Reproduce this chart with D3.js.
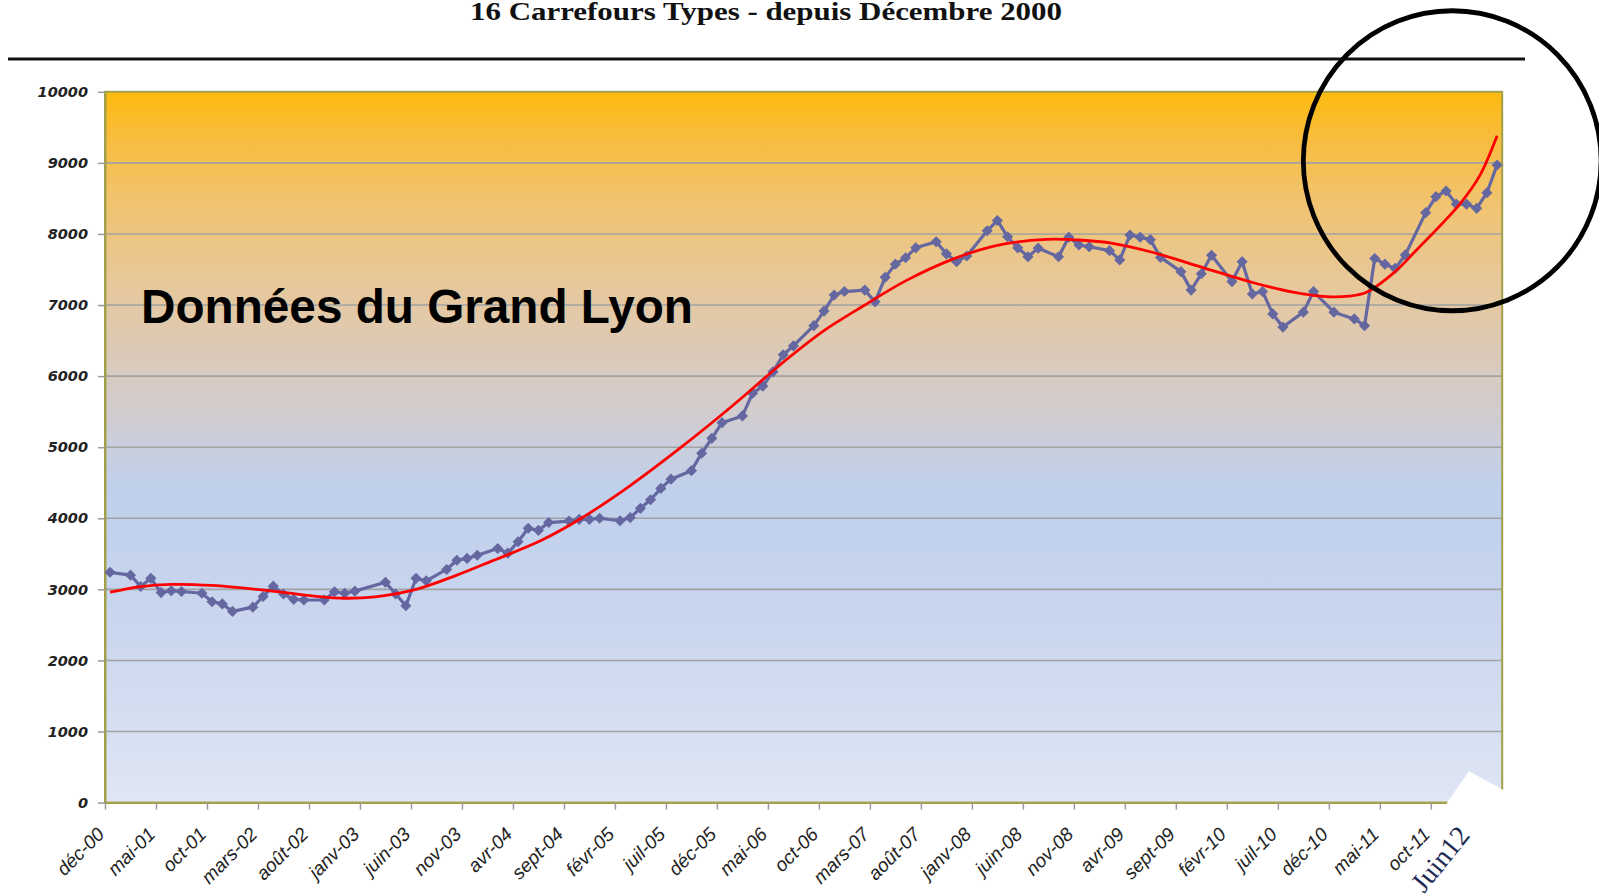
<!DOCTYPE html>
<html>
<head>
<meta charset="utf-8">
<script src="https://d3js.org/d3.v7.min.js"></script>
<style>
  body { margin: 0; background: #fff; }
  svg { display: block; }
</style>
</head>
<body>
<div id="container"></div>
<script>
// tick labels on the x axis, one every 5 months starting dec 2000
var monthLabels = ["déc-00","mai-01","oct-01","mars-02","août-02","janv-03","juin-03","nov-03",
  "avr-04","sept-04","févr-05","juil-05","déc-05","mai-06","oct-06","mars-07","août-07",
  "janv-08","juin-08","nov-08","avr-09","sept-09","févr-10","juil-10","déc-10","mai-11","oct-11"];

var yTicks = [0, 1000, 2000, 3000, 4000, 5000, 6000, 7000, 8000, 9000, 10000];

// monthly counts (null = month with no point, the line just joins across)
var values = [
  3240, null, 3200, 3040, 3155, 2955, 2980, 2970, null, 2945,
  2825, 2795, 2690, null, 2750, 2900, 3045, 2935, 2860, 2850,
  null, 2850, 2965, 2945, 2975, null, null, 3100, 2935, 2770,
  3155, 3120, null, 3280, 3410, 3435, 3480, null, 3575, 3510,
  3670, 3860, 3830, 3940, null, 3960, 3985, 3985, 4000, null,
  3965, 4010, 4140, 4260, 4420, 4550, null, 4670, 4915, 5125,
  5345, null, 5440, 5760, 5860, 6060, 6300, 6425, null, 6710,
  6915, 7140, 7190, null, 7210, 7045, 7390, 7575, 7665, 7805,
  null, 7890, 7720, 7610, 7690, null, 8045, 8190, 7960, 7805,
  7680, 7800, null, 7680, 7955, 7845, 7820, null, 7765, 7635,
  7985, 7955, 7920, 7670, null, 7470, 7210, 7440, 7700, null,
  7330, 7610, 7155, 7190, 6875, 6690, null, 6900, 7190, null,
  6900, null, 6805, 6710, 7655, 7575, 7515, 7705, null, 8300,
  8525, 8605, 8420, 8420, 8360, 8580, 8970
];

// red trend curve (month index / value)
var trendMonths = [0, 3, 6, 10, 15.7, 20, 23, 26, 30, 34, 37.3, 42.3, 46.2, 51, 56, 61, 66.3,
  70, 74, 78, 82.7, 87, 91.8, 95, 98.3, 102, 107.3, 112.2, 116, 119.3, 121.5, 123.2, 126,
  128.1, 132.4, 134.3, 136];
var trendValues = [2960, 3040, 3070, 3055, 2980, 2905, 2875, 2895, 3000, 3200, 3390, 3690, 4000,
  4460, 5000, 5580, 6230, 6640, 7000, 7340, 7650, 7840, 7925, 7915, 7869, 7750, 7520, 7310,
  7180, 7117, 7125, 7180, 7470, 7774, 8431, 8820, 9380];

var W = 1599, H = 896;
var margin = { top: 91.8, left: 105, right: 96.8, bottom: 93.4 };
var width = W - margin.left - margin.right;
var height = H - margin.top - margin.bottom;

var svg = d3.select("#container").append("svg")
  .attr("width", W)
  .attr("height", H);

var defs = svg.append("defs");
var grad = defs.append("linearGradient")
  .attr("id", "bg")
  .attr("x1", 0).attr("y1", 0).attr("x2", 0).attr("y2", 1);
[[0, "#fcba0e"], [0.07, "#f8bd40"], [0.15, "#f1c36c"], [0.25, "#e9c794"], [0.33, "#e0c9ad"],
 [0.42, "#d5cbc6"], [0.5, "#cacedc"], [0.56, "#bfd0ec"], [0.75, "#cad6ee"], [1, "#dfe6f4"]]
  .forEach(function (s) {
    grad.append("stop").attr("offset", s[0]).attr("stop-color", s[1]);
  });

// title + rule
svg.append("text")
  .attr("x", 470)
  .attr("y", 20)
  .attr("textLength", 592)
  .attr("lengthAdjust", "spacingAndGlyphs")
  .style("font-family", "'Liberation Serif', 'Times New Roman', serif")
  .style("font-weight", "bold")
  .style("font-size", "26px")
  .style("fill", "#111")
  .text("16 Carrefours Types - depuis Décembre 2000");

svg.append("line")
  .attr("x1", 8).attr("x2", 1525)
  .attr("y1", 59).attr("y2", 59)
  .attr("stroke", "#111")
  .attr("stroke-width", 3);

var g = svg.append("g")
  .attr("transform", "translate(" + margin.left + "," + margin.top + ")");

var x = d3.scaleLinear().domain([0, values.length]).range([0, width]);
var y = d3.scaleLinear().domain([0, 10000]).range([height, 0]);

g.append("rect")
  .attr("width", width)
  .attr("height", height)
  .attr("fill", "url(#bg)");

// gridlines
g.append("g")
  .selectAll("line")
  .data(yTicks.filter(function (d) { return d > 0 && d < 10000; }))
  .enter()
  .append("line")
    .attr("x1", 0).attr("x2", width)
    .attr("y1", function (d) { return y(d); })
    .attr("y2", function (d) { return y(d); })
    .attr("stroke", "#a2a2a2")
    .attr("stroke-width", 1.6);

g.append("rect")
  .attr("width", width)
  .attr("height", height)
  .attr("fill", "none")
  .attr("stroke", "#a3a04a")
  .attr("stroke-width", 2);

// y axis
var yAxis = g.append("g")
  .call(d3.axisLeft(y).tickValues(yTicks).tickFormat(d3.format("d"))
    .tickSize(7).tickSizeOuter(0).tickPadding(10));
yAxis.select(".domain").attr("stroke", "#a3a04a").attr("stroke-width", 2);
yAxis.selectAll(".tick line").attr("stroke", "#9a9a9a").attr("stroke-width", 1.5);
yAxis.selectAll("text")
  .style("font-family", "'DejaVu Sans', Verdana, sans-serif")
  .style("font-style", "italic")
  .style("font-weight", "bold")
  .style("font-size", "14.5px")
  .style("fill", "#222");

// x axis
var xAxis = g.append("g")
  .attr("transform", "translate(0," + height + ")")
  .call(d3.axisBottom(x)
    .tickValues(d3.range(0, monthLabels.length * 5, 5))
    .tickFormat(function (d, i) { return monthLabels[i]; })
    .tickSize(7).tickSizeOuter(0));
xAxis.select(".domain").attr("stroke", "#a3a04a").attr("stroke-width", 2);
xAxis.selectAll(".tick line").attr("stroke", "#9a9a9a").attr("stroke-width", 1.5);
xAxis.selectAll("text")
  .attr("x", 0).attr("y", 0).attr("dy", 0)
  .attr("text-anchor", "end")
  .attr("transform", "translate(0,33) rotate(-45)")
  .style("font-family", "'Liberation Sans', Arial, sans-serif")
  .style("font-style", "italic")
  .style("font-size", "19px")
  .style("fill", "#222");

// big label
g.append("text")
  .attr("x", 141 - margin.left)
  .attr("y", 323.5 - margin.top)
  .attr("textLength", 552)
  .attr("lengthAdjust", "spacingAndGlyphs")
  .style("font-family", "'Liberation Sans', Arial, sans-serif")
  .style("font-weight", "bold")
  .style("font-size", "48px")
  .style("fill", "#000")
  .text("Données du Grand Lyon");

// monthly series
var pts = values
  .map(function (v, i) { return { i: i, v: v }; })
  .filter(function (d) { return d.v != null; });

var line = d3.line()
  .x(function (d) { return x(d.i + 0.5); })
  .y(function (d) { return y(d.v); });

g.append("path")
  .datum(pts)
  .attr("d", line)
  .attr("fill", "none")
  .attr("stroke", "#6567a1")
  .attr("stroke-width", 3.2)
  .attr("stroke-linejoin", "round");

g.append("g")
  .selectAll("path")
  .data(pts)
  .enter()
  .append("path")
    .attr("d", d3.symbol().type(d3.symbolSquare).size(62))
    .attr("transform", function (d) {
      return "translate(" + x(d.i + 0.5) + "," + y(d.v) + ") rotate(45)";
    })
    .attr("fill", "#6567a1");

// trend
var trend = trendMonths.map(function (m, k) { return { i: m, v: trendValues[k] }; });
g.append("path")
  .datum(trend)
  .attr("d", d3.line()
    .curve(d3.curveCatmullRom)
    .x(function (d) { return x(d.i + 0.5); })
    .y(function (d) { return y(d.v); }))
  .attr("fill", "none")
  .attr("stroke", "#ff0000")
  .attr("stroke-width", 2.8);

// white notch over the lower right corner
var notch = [[131.6, 0], [133.75, 440], [137.1, 178], [137.4, 178], [137.4, -250], [131.6, -250]];
g.append("polygon")
  .attr("points", notch.map(function (p) { return x(p[0]) + "," + y(p[1]); }).join(" "))
  .attr("fill", "#fff");

g.append("text")
  .attr("transform", "translate(" + (1424 - margin.left) + "," + (894 - margin.top) + ") rotate(-51)")
  .style("font-family", "'Liberation Serif', 'Times New Roman', serif")
  .style("font-size", "28px")
  .style("fill", "#1e2b55")
  .text("Juin12");

// circle around the last months
g.append("ellipse")
  .attr("cx", x(132.1))
  .attr("cy", y(9030))
  .attr("rx", x(14.6) - x(0))
  .attr("ry", y(0) - y(2110))
  .attr("fill", "none")
  .attr("stroke", "#000")
  .attr("stroke-width", 4.8);
</script>
</body>
</html>
